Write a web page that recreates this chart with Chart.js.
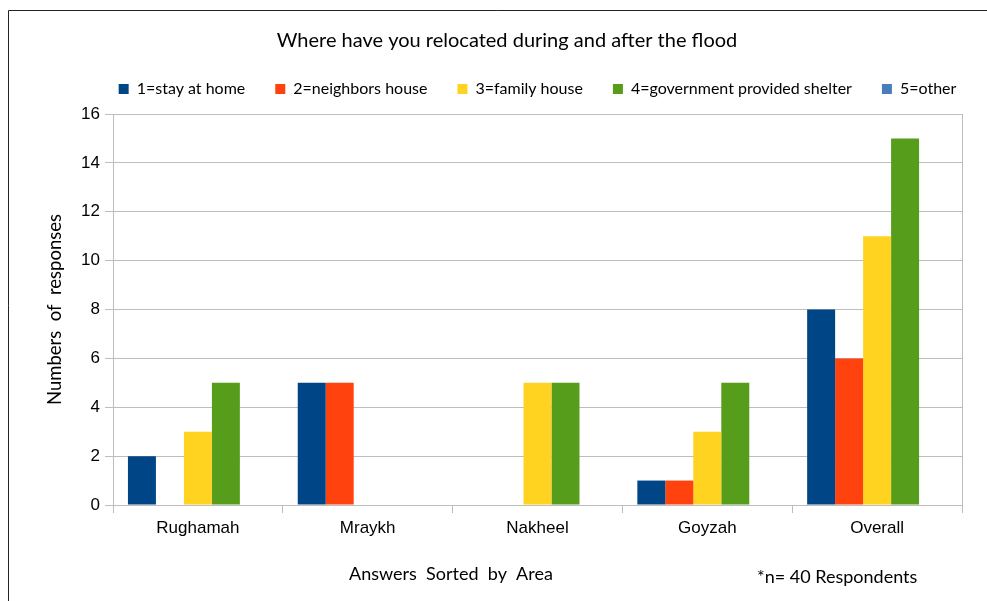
<!DOCTYPE html>
<html>
<head>
<meta charset="utf-8">
<title>Relocation during and after the flood</title>
<script src="https://cdn.jsdelivr.net/npm/chart.js@4/dist/chart.umd.min.js"></script>
<style>
  html, body { margin: 0; padding: 0; background: #fff; }
  canvas { display: block; }
</style>
</head>
<body>
<canvas id="floodChart" width="987" height="601"></canvas>
<script>
// survey answers per area
var areas = ['Rughamah', 'Mraykh', 'Nakheel', 'Goyzah', 'Overall'];
var stayAtHome = [2, 5, 0, 1, 8];
var neighborsHouse = [0, 5, 0, 1, 6];
var familyHouse = [3, 0, 5, 3, 11];
var govShelter = [5, 0, 5, 5, 15];
var other = [0, 0, 0, 0, 0];
var yTicks = [0, 2, 4, 6, 8, 10, 12, 14, 16];

var gridColor = '#bdbdbd';
var labelFont = 'Lato, "Open Sans", sans-serif';
var tickFont = '"Liberation Sans", Arial, sans-serif';

// frame, plot border on the right and the bottom captions
var extras = {
  id: 'extras',
  afterLayout: function (chart) {
    var area = chart.chartArea;
    // legend centred over the plot and lifted a little, title a bit left of it
    var lg = chart.legend;
    lg.left = area.left - 40;
    lg.right = area.right + 40;
    lg.top -= 7;
    lg.bottom -= 7;
    chart.titleBlock.left = 52;
    chart.titleBlock.right = area.right;
  },
  afterDraw: function (chart) {
    var ctx = chart.ctx;
    var area = chart.chartArea;
    ctx.save();
    ctx.strokeStyle = '#222';
    ctx.lineWidth = 1;
    ctx.beginPath();
    ctx.moveTo(8.5, 601);
    ctx.lineTo(8.5, 10.5);
    ctx.lineTo(987, 10.5);
    ctx.stroke();

    ctx.strokeStyle = gridColor;
    ctx.beginPath();
    ctx.moveTo(Math.round(area.right) + 0.5, area.top);
    ctx.lineTo(Math.round(area.right) + 0.5, area.bottom);
    ctx.stroke();

    ctx.fillStyle = '#000';
    ctx.textBaseline = 'middle';
    ctx.font = '18px ' + labelFont;
    ctx.textAlign = 'center';
    ctx.fillText('Answers  Sorted  by  Area', 451, 574);
    ctx.textAlign = 'left';
    ctx.fillText('*n= 40 Respondents', 757, 577);
    ctx.restore();
  }
};

var ctx = document.getElementById('floodChart').getContext('2d');
var myChart = new Chart(ctx, {
  type: 'bar',
  data: {
    labels: areas,
    datasets: [
      { label: '1=stay at home', data: stayAtHome, backgroundColor: '#004586' },
      { label: '2=neighbors house', data: neighborsHouse, backgroundColor: '#ff420e' },
      { label: '3=family house', data: familyHouse, backgroundColor: '#ffd320' },
      { label: '4=government provided shelter', data: govShelter, backgroundColor: '#579d1c' },
      { label: '5=other', data: other, backgroundColor: '#4a7ebb' }
    ]
  },
  options: {
    responsive: false,
    animation: false,
    layout: { padding: { left: 9, top: 10, right: 25, bottom: 0 } },
    datasets: {
      bar: { categoryPercentage: 0.824, barPercentage: 1, borderWidth: 0 }
    },
    plugins: {
      title: {
        display: true,
        text: 'Where have you relocated during and after the flood',
        color: '#000',
        font: { family: labelFont, size: 20, weight: 'normal' },
        padding: { top: 19, bottom: 5 }
      },
      legend: {
        position: 'top',
        labels: {
          color: '#000',
          boxWidth: 10,
          boxHeight: 10,
          padding: 30,
          font: { family: labelFont, size: 16 }
        }
      },
      tooltip: { enabled: false }
    },
    scales: {
      x: {
        grid: {
          offset: true,
          drawOnChartArea: false,
          color: gridColor,
          tickLength: 8
        },
        border: { color: gridColor },
        ticks: {
          color: '#000',
          padding: 5,
          font: { family: tickFont, size: 17 }
        },
        afterFit: function (scale) {
          scale.height = 96;
        }
      },
      y: {
        min: 0,
        max: 16,
        afterBuildTicks: function (scale) {
          scale.ticks = yTicks.map(function (v) { return { value: v }; });
        },
        grid: { color: gridColor, tickLength: 8 },
        border: { color: gridColor },
        ticks: {
          color: '#000',
          padding: 5,
          font: { family: tickFont, size: 17 }
        },
        title: {
          display: true,
          text: 'Numbers  of  responses',
          color: '#000',
          font: { family: labelFont, size: 18.5 },
          padding: { top: 35, bottom: 0 }
        },
        afterFit: function (scale) {
          scale.width = 104;
        }
      }
    }
  },
  plugins: [extras]
});
</script>
</body>
</html>
